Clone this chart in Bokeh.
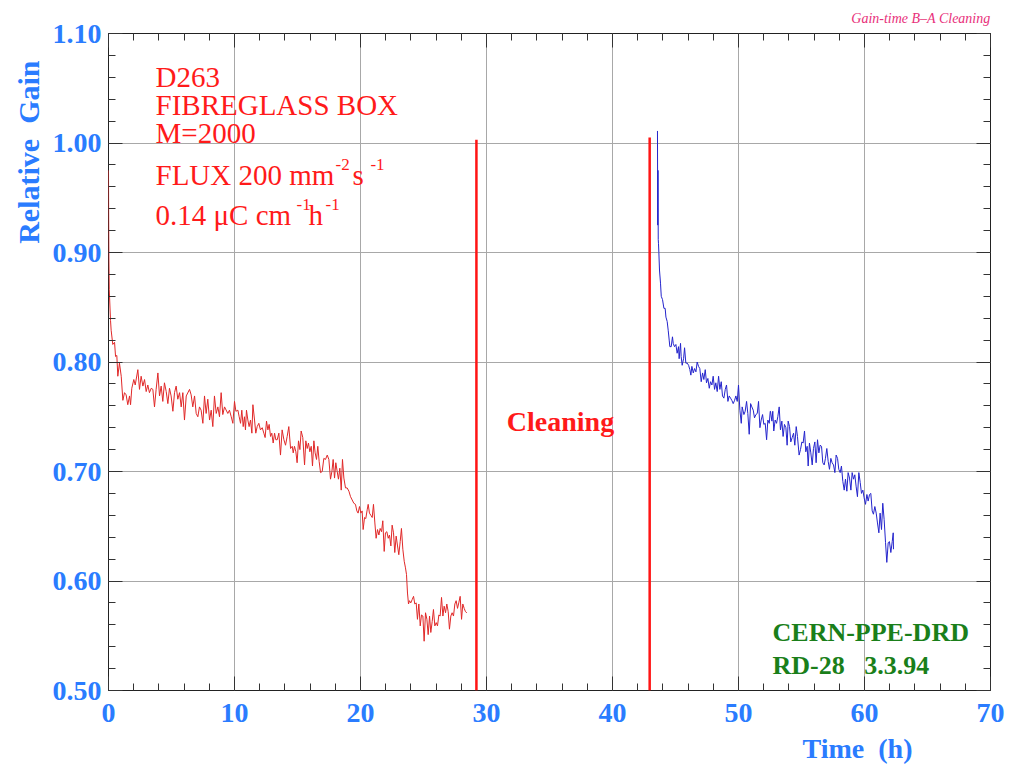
from bokeh.plotting import figure
from bokeh.models import Range1d, SingleIntervalTicker, NumeralTickFormatter, LinearAxis, Label, Title
from bokeh.embed import file_html
from bokeh.resources import INLINE

# ---------------- data ----------------
red_t = [0.00, 0.01, 0.03, 0.06, 0.16, 0.21, 0.34, 0.48, 0.56, 0.66, 0.74, 0.87, 1.01, 1.14, 1.27, 1.40,
         1.53, 1.67, 1.75, 1.85, 2.01, 2.12, 2.33, 2.46, 2.59, 2.73, 2.86, 2.99, 3.12, 3.25, 3.39, 3.52,
         3.65, 3.78, 3.92, 4.05, 4.18, 4.31, 4.44, 4.58, 4.71, 4.84, 4.97, 5.11, 5.24, 5.37, 5.50, 5.64,
         5.77, 5.90, 6.03, 6.17, 6.43, 6.56, 6.69, 6.83, 6.96, 7.09, 7.22, 7.35, 7.49, 7.62, 7.75, 7.88,
         8.02, 8.15, 8.28, 8.41, 8.55, 8.68, 8.81, 8.94, 9.07, 9.21, 9.47, 9.60, 9.74, 9.87,
         10.00, 10.11, 10.27, 10.37, 10.48, 10.58, 10.69, 10.79, 10.87, 10.95, 11.06, 11.16, 11.27, 11.38,
         11.46, 11.59, 11.69, 11.80, 11.93, 12.06, 12.20, 12.33, 12.43, 12.54, 12.65, 12.75, 12.86, 12.96,
         13.07, 13.18, 13.28, 13.39, 13.52, 13.65, 13.78, 13.92, 14.05, 14.18, 14.31, 14.45, 14.58, 14.66,
         14.76, 14.87, 14.97, 15.08, 15.19, 15.29, 15.42, 15.56, 15.66, 15.77, 15.87, 15.98, 16.09, 16.19,
         16.30, 16.40, 16.51, 16.61, 16.72, 16.83, 16.96, 17.09, 17.22, 17.36, 17.49, 17.62, 17.73, 17.83,
         17.94, 18.04, 18.15, 18.25, 18.36, 18.47, 18.57, 18.68, 18.81, 18.94, 19.08, 19.21, 19.34, 19.47,
         19.60, 19.71, 19.81, 19.92, 20.03, 20.13, 20.21, 20.32, 20.42, 20.53, 20.61, 20.71, 20.82, 20.93,
         21.03, 21.14, 21.24, 21.35, 21.46, 21.56, 21.67, 21.77, 21.88, 21.98, 22.09, 22.20, 22.30, 22.41,
         22.51, 22.62, 22.72, 22.83, 22.94, 23.04, 23.15, 23.25, 23.36, 23.47, 23.57, 23.65, 23.73, 23.81,
         23.89, 23.99, 24.10, 24.21, 24.31, 24.42, 24.52, 24.63, 24.74, 24.84, 24.95, 25.05, 25.16, 25.27,
         25.37, 25.48, 25.58, 25.69, 25.79, 25.90, 26.01, 26.11, 26.22, 26.32, 26.43, 26.54, 26.64, 26.75,
         26.85, 26.96, 27.06, 27.17, 27.27, 27.38, 27.49, 27.59, 27.70, 27.80, 27.91, 28.02, 28.12, 28.23,
         28.33, 28.44]
red_g = [0.975, 0.940, 0.895, 0.866, 0.838, 0.829, 0.816, 0.818, 0.805, 0.806, 0.787, 0.799, 0.787, 0.765, 0.772, 0.770,
         0.761, 0.769, 0.761, 0.776, 0.784, 0.779, 0.793, 0.775, 0.787, 0.778, 0.784, 0.773, 0.779, 0.772, 0.776, 0.775,
         0.759, 0.775, 0.790, 0.769, 0.778, 0.764, 0.781, 0.773, 0.762, 0.776, 0.769, 0.755, 0.772, 0.778, 0.766, 0.772,
         0.759, 0.772, 0.747, 0.769, 0.775, 0.770, 0.759, 0.769, 0.753, 0.750, 0.759, 0.756, 0.744, 0.769, 0.753, 0.766,
         0.747, 0.756, 0.741, 0.769, 0.753, 0.759, 0.750, 0.772, 0.752, 0.759, 0.753, 0.756, 0.750, 0.744,
         0.764, 0.755, 0.756, 0.750, 0.744, 0.756, 0.741, 0.750, 0.738, 0.756, 0.747, 0.741, 0.747, 0.735,
         0.761, 0.747, 0.735, 0.741, 0.744, 0.738, 0.740, 0.735, 0.731, 0.746, 0.738, 0.743, 0.732, 0.735,
         0.726, 0.735, 0.729, 0.729, 0.735, 0.715, 0.738, 0.729, 0.724, 0.732, 0.741, 0.721, 0.723, 0.717,
         0.723, 0.718, 0.708, 0.728, 0.720, 0.737, 0.731, 0.706, 0.728, 0.721, 0.726, 0.718, 0.723, 0.705,
         0.728, 0.717, 0.711, 0.723, 0.709, 0.699, 0.700, 0.712, 0.711, 0.715, 0.711, 0.693, 0.700, 0.711,
         0.694, 0.708, 0.700, 0.693, 0.703, 0.683, 0.711, 0.694, 0.685, 0.685, 0.682, 0.677, 0.674, 0.671,
         0.670, 0.664, 0.662, 0.668, 0.662, 0.664, 0.647, 0.658, 0.657, 0.665, 0.670, 0.662, 0.660, 0.658,
         0.670, 0.653, 0.639, 0.647, 0.642, 0.648, 0.645, 0.655, 0.627, 0.644, 0.645, 0.639, 0.642, 0.632,
         0.651, 0.644, 0.626, 0.641, 0.632, 0.624, 0.636, 0.648, 0.629, 0.618, 0.612, 0.606, 0.589, 0.579,
         0.582, 0.580, 0.583, 0.586, 0.579, 0.580, 0.565, 0.579, 0.559, 0.569, 0.568, 0.545, 0.571, 0.565,
         0.551, 0.568, 0.553, 0.563, 0.574, 0.559, 0.562, 0.559, 0.569, 0.568, 0.585, 0.568, 0.577, 0.571,
         0.579, 0.572, 0.556, 0.568, 0.571, 0.568, 0.579, 0.582, 0.575, 0.580, 0.586, 0.565, 0.579, 0.575,
         0.572, 0.571]

blue_t = [43.57, 43.59, 43.61, 43.63, 43.65, 43.68, 43.73, 43.81, 43.87, 43.97, 44.08, 44.18, 44.24, 44.34,
          44.42, 44.50, 44.55, 44.66, 44.76, 44.82, 44.92, 45.03, 45.13, 45.24, 45.29, 45.40, 45.45, 45.53,
          45.64, 45.72, 45.82, 45.93, 46.04, 46.14, 46.22, 46.30, 46.41, 46.51, 46.62, 46.72, 46.83, 46.93,
          47.04, 47.15, 47.25, 47.36, 47.46, 47.57, 47.68, 47.78, 47.89, 47.99, 48.10, 48.20, 48.31, 48.42,
          48.52, 48.63, 48.73, 48.84, 48.95, 49.05, 49.16, 49.26, 49.37, 49.47, 49.58, 49.69, 49.79, 49.90,
          50.00, 50.11, 50.22, 50.29, 50.43, 50.53, 50.64, 50.74, 50.85, 50.96, 51.06, 51.17, 51.27, 51.38,
          51.49, 51.59, 51.70, 51.80, 51.91, 52.01, 52.12, 52.23, 52.33, 52.44, 52.52,
          52.54, 52.65, 52.72, 52.80, 52.91, 53.02, 53.12, 53.23, 53.33, 53.44, 53.54, 53.65, 53.76, 53.86,
          53.94, 54.05, 54.15, 54.26, 54.37, 54.47, 54.58, 54.68, 54.81, 54.92, 55.03, 55.13, 55.24, 55.34,
          55.45, 55.53, 55.63, 55.74, 55.85, 55.95, 56.06, 56.16, 56.27, 56.38, 56.48, 56.59, 56.69, 56.80,
          56.90, 57.01, 57.12, 57.22, 57.33, 57.43, 57.54, 57.65, 57.75, 57.86, 57.96, 58.07, 58.17, 58.28,
          58.39, 58.49, 58.60, 58.70, 58.81, 58.92, 59.02, 59.13, 59.23, 59.34, 59.44, 59.55, 59.66, 59.76,
          59.87, 59.97, 60.08, 60.19, 60.29, 60.40, 60.50, 60.61, 60.71, 60.82, 60.93, 61.03, 61.14, 61.24,
          61.35, 61.45, 61.56, 61.67, 61.77, 61.88, 61.98, 62.09, 62.20, 62.28, 62.30]
blue_g = [1.011, 0.925, 0.975, 0.912, 0.908, 0.900, 0.884, 0.872, 0.860, 0.857, 0.849, 0.849, 0.841, 0.837,
          0.829, 0.820, 0.814, 0.814, 0.823, 0.817, 0.814, 0.816, 0.808, 0.814, 0.803, 0.817, 0.805, 0.797,
          0.803, 0.813, 0.799, 0.799, 0.797, 0.793, 0.788, 0.796, 0.790, 0.794, 0.791, 0.800, 0.796, 0.794,
          0.782, 0.790, 0.784, 0.793, 0.781, 0.785, 0.776, 0.782, 0.779, 0.787, 0.775, 0.781, 0.773, 0.787,
          0.775, 0.782, 0.769, 0.767, 0.775, 0.779, 0.764, 0.769, 0.767, 0.765, 0.762, 0.765, 0.769, 0.764,
          0.779, 0.756, 0.744, 0.759, 0.752, 0.755, 0.764, 0.753, 0.734, 0.762, 0.759, 0.756, 0.749, 0.752,
          0.753, 0.764, 0.740, 0.747, 0.752, 0.743, 0.744, 0.729, 0.747, 0.744, 0.755,
          0.755, 0.746, 0.755, 0.737, 0.747, 0.744, 0.750, 0.759, 0.738, 0.746, 0.732, 0.743, 0.740, 0.724,
          0.746, 0.741, 0.727, 0.731, 0.735, 0.724, 0.741, 0.732, 0.715, 0.720, 0.727, 0.726, 0.737, 0.718,
          0.723, 0.705, 0.726, 0.717, 0.706, 0.721, 0.727, 0.708, 0.729, 0.717, 0.724, 0.723, 0.708, 0.706,
          0.712, 0.721, 0.709, 0.702, 0.712, 0.708, 0.706, 0.699, 0.715, 0.712, 0.702, 0.699, 0.705, 0.691,
          0.683, 0.693, 0.682, 0.699, 0.694, 0.683, 0.699, 0.693, 0.697, 0.686, 0.677, 0.699, 0.690, 0.680,
          0.683, 0.676, 0.670, 0.679, 0.673, 0.679, 0.680, 0.664, 0.661, 0.668, 0.662, 0.653, 0.644, 0.662,
          0.647, 0.671, 0.656, 0.635, 0.617, 0.635, 0.636, 0.626, 0.636, 0.644, 0.629]

# cleaning period markers (time, top of marker)
clean_t = [29.2, 42.95]
clean_top = [1.003, 1.005]

x_ticks_interval = 10
y_ticks_interval = 0.1

# ---------------- styling ----------------
BLUE = "#2a7cff"
SERIF = "Liberation Serif"
NB = "\u00a0"

p = figure(width=1019, height=769, x_range=Range1d(0, 70), y_range=Range1d(0.5, 1.1),
           output_backend="svg", toolbar_location=None, title=None,
           min_border_left=108, min_border_right=29, min_border_top=33, min_border_bottom=79)
p.background_fill_color = "white"
p.border_fill_color = "white"
p.outline_line_color = "#222222"
p.outline_line_width = 1

xt = SingleIntervalTicker(interval=x_ticks_interval, num_minor_ticks=5)
yt = SingleIntervalTicker(interval=y_ticks_interval, num_minor_ticks=5)
p.xaxis.ticker = xt
p.yaxis.ticker = yt
p.xgrid.ticker = xt
p.ygrid.ticker = yt
p.yaxis.formatter = NumeralTickFormatter(format="0.00")

for g in (p.xgrid, p.ygrid):
    g.grid_line_color = "#a8a8a8"
    g.grid_line_width = 1


def style_axis(ax, show_labels, standoff):
    ax.axis_line_color = None
    ax.major_tick_in = 14
    ax.major_tick_out = 0
    ax.minor_tick_in = 7
    ax.minor_tick_out = 0
    ax.major_tick_line_color = "#333333"
    ax.minor_tick_line_color = "#333333"
    ax.major_label_standoff = standoff
    if show_labels:
        ax.major_label_text_font = SERIF
        ax.major_label_text_font_style = "bold"
        ax.major_label_text_font_size = "28px"
        ax.major_label_text_color = BLUE
    else:
        ax.major_label_text_font_size = "0px"
        ax.major_label_text_alpha = 0


style_axis(p.xaxis[0], True, 13)
style_axis(p.yaxis[0], True, 7)

top = LinearAxis(ticker=xt)
right = LinearAxis(ticker=yt)
style_axis(top, False, 0)
style_axis(right, False, 0)
p.add_layout(top, "above")
p.add_layout(right, "right")

# ---------------- data marks ----------------
p.line(red_t, red_g, line_color="#e02828", line_width=1)
p.line(blue_t, blue_g, line_color="#2424cc", line_width=1)
p.segment(x0=clean_t, y0=[0.5, 0.5], x1=clean_t, y1=clean_top, line_color="#ff1414", line_width=2.5)

# ---------------- texts ----------------
def lab(x, y, text, size, color, style="normal", align="left", baseline="alphabetic"):
    p.add_layout(Label(x=x, y=y, text=text, text_font=SERIF, text_font_size=size, text_color=color,
                       text_font_style=style, text_align=align, text_baseline=baseline))

RED = "#ff1a1a"
lab(3.73, 1.0599, "D263", "29px", RED)
lab(3.73, 1.0344, "FIBREGLASS BOX", "29px", RED)
lab(3.73, 1.0088, "M=2000", "29px", RED)
lab(3.73, 0.9705, "FLUX 200 mm", "29px", RED)
lab(18.02, 0.9800, "-2", "17px", RED)
lab(19.37, 0.9705, "s", "29px", RED)
lab(20.79, 0.9800, "-1", "17px", RED)
lab(3.73, 0.9341, "0.14 μC cm", "29px", RED)
lab(14.92, 0.9436, "-1", "17px", RED)
lab(15.87, 0.9341, "h", "29px", RED)
lab(17.22, 0.9436, "-1", "17px", RED)

lab(35.87, 0.7454, "Cleaning", "28px", "#ff1a1a", style="bold", align="center")

GREEN = "#1a7f1a"
lab(52.70, 0.5530, "CERN-PPE-DRD", "26px", GREEN, style="bold")
lab(52.70, 0.5230, "RD-28" + NB + NB + " 3.3.94", "26px", GREEN, style="bold")

# texts outside the frame
p.add_layout(Title(text="Gain-time B–A Cleaning", align="right", offset=0, standoff=16,
                   text_font=SERIF, text_font_style="italic", text_font_size="14px",
                   text_color="#e8307a"), "above")
p.add_layout(Title(text="Time" + NB + " (h)", align="right", offset=78, standoff=12,
                   text_font=SERIF, text_font_style="bold", text_font_size="28px",
                   text_color=BLUE), "below")
p.add_layout(Title(text="Relative" + NB + " Gain", align="right", offset=27, standoff=10,
                   text_font=SERIF, text_font_style="bold", text_font_size="30px",
                   text_color=BLUE), "left")

open("out.html", "w").write(file_html(p, INLINE))
